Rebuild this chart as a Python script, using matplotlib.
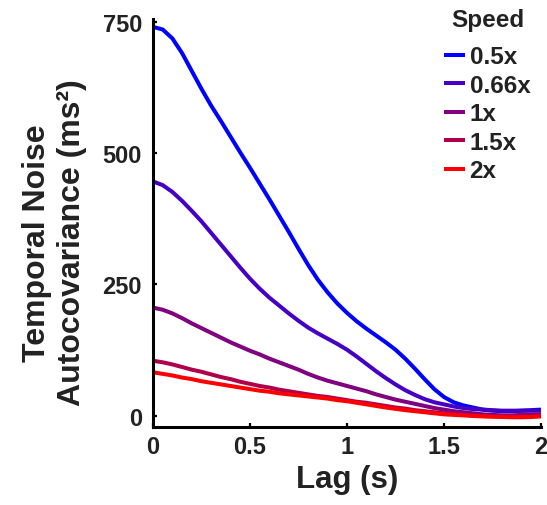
import numpy as np
import matplotlib
matplotlib.use('Agg')
import matplotlib.pyplot as plt

plt.rcParams['font.family'] = ['Liberation Sans', 'DejaVu Sans']
plt.rcParams['font.weight'] = 'bold'

# lag (s) and autocovariance (ms^2)
lag = [0, 0.05, 0.1, 0.15, 0.2, 0.25, 0.3, 0.35, 0.4, 0.45, 0.5,
       0.55, 0.6, 0.65, 0.7, 0.75, 0.8, 0.85, 0.9, 0.95, 1.0,
       1.05, 1.1, 1.15, 1.2, 1.25, 1.3, 1.35, 1.4, 1.45, 1.5,
       1.55, 1.6, 1.65, 1.7, 1.75, 1.8, 1.85, 1.9, 1.95, 2.0]
cov_05 = [740, 735, 718, 690, 656, 622, 590, 561, 531, 501, 472,
          442, 412, 381, 350, 318, 287, 259, 235, 214, 196,
          180, 166, 153, 140, 126, 109, 90, 70, 51, 36,
          26, 20, 16, 12, 10, 9, 9, 10, 11, 12]
cov_066 = [446, 439, 426, 409, 390, 370, 348, 326, 304, 282, 261,
           242, 225, 210, 195, 181, 168, 157, 147, 137, 126,
           113, 99, 85, 72, 60, 49, 40, 32, 26, 22,
           18, 15, 13, 12, 11, 10, 10, 10, 10, 10]
cov_1 = [206, 202, 195, 186, 176, 167, 158, 149, 140, 132, 124,
         117, 109, 102, 95, 88, 80, 73, 67, 62, 57,
         52, 47, 41, 36, 31, 27, 23, 19, 15, 12,
         9, 7, 5, 3, 2, 1, 1, 2, 2.5, 3]
cov_15 = [105, 102, 98, 93, 88, 84, 79, 74, 70, 65, 61,
          57, 54, 50, 47, 44, 41, 38, 36, 33, 30,
          27, 25, 22, 19, 16, 14, 11, 9, 7, 5,
          3.5, 2, 1, 0, -0.5, -1, -1, -1, -0.5, 0]
cov_2 = [83, 80, 77, 73, 70, 66, 63, 60, 57, 54, 51,
         48, 46, 43, 41, 39, 37, 35, 33, 30, 28,
         25, 22, 19, 16, 13.5, 11, 9, 7, 5, 3,
         2, 1, 0, -1, -1.5, -2, -2.5, -2.5, -2, -1]

speeds = ['0.5x', '0.66x', '1x', '1.5x', '2x']
series = [cov_05, cov_066, cov_1, cov_15, cov_2]
colors = ['#0000ff', '#4400c4', '#800080', '#b0004c', '#ff0000']

txt = '#222222'

fig = plt.figure(figsize=(5.47, 5.06), dpi=100)
ax = fig.add_axes([0.2797, 0.1542, 0.7093, 0.8063])

for y, c, lab in zip(series, colors, speeds):
    ax.plot(lag, y, color=c, lw=2.9, label=lab, solid_capstyle='butt',
            solid_joinstyle='round')

ax.set_xlim(0, 2)
ax.set_ylim(-21, 755)
ax.set_xticks([0, 0.5, 1, 1.5, 2])
ax.set_xticklabels(['0', '0.5', '1', '1.5', '2'])
ax.set_yticks([0, 250, 500, 750])

for s in ['top', 'right']:
    ax.spines[s].set_visible(False)
for s in ['left', 'bottom']:
    ax.spines[s].set_linewidth(2.2)
    ax.spines[s].set_color('black')

ax.tick_params(direction='in', length=3, width=1.6, labelsize=17,
               labelcolor=txt, pad=6)
ax.tick_params(axis='y', pad=8)
for t in ax.get_xticklabels() + ax.get_yticklabels():
    t.set_fontweight('bold')

ax.set_xlabel('Lag (s)', fontsize=22.5, fontweight='bold', color=txt, labelpad=4)
fig.text(0.1, 0.52, 'Temporal Noise\nAutocovariance (ms²)', rotation=90,
         ha='center', va='center', multialignment='center',
         fontsize=23, fontweight='bold', color=txt, linespacing=1.2)

fig.text(0.892, 0.960, 'Speed', ha='center', va='center',
         fontsize=17.5, fontweight='bold', color=txt)
leg = ax.legend(loc='upper left', bbox_to_anchor=(0.8117, 0.909),
                bbox_transform=fig.transFigure, frameon=False,
                fontsize=17.5, handlelength=0.85,
                handletextpad=0.2, labelspacing=0.23, borderpad=0,
                borderaxespad=0)
for t in leg.get_texts():
    t.set_color(txt)
    t.set_fontweight('bold')

fig.savefig('out.png', dpi=100)
